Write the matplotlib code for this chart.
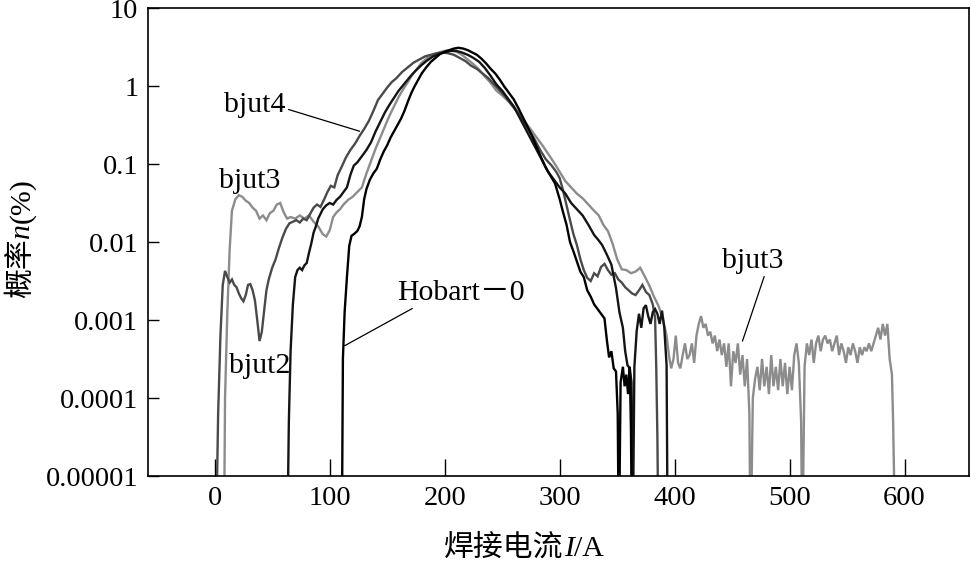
import numpy as np
import matplotlib
matplotlib.use("Agg")
import matplotlib.pyplot as plt
from matplotlib.transforms import IdentityTransform

# values: current (A) and log10 of probability (%)
bjut3_x = [8, 9, 11, 13, 15, 18, 21, 24, 27, 30, 33, 36, 39, 42, 45, 48, 51, 54, 57, 60,
           63, 66, 70, 74, 78, 82, 86, 90, 94, 97, 100, 103, 106, 109, 112, 116, 120, 124,
           128, 132, 136, 140, 144, 148, 152, 156, 160, 164, 168, 172, 176, 180, 185, 190,
           195, 200, 205, 210, 215, 220, 225, 230, 235, 240, 245, 250, 255, 260, 265, 270,
           275, 280, 285, 290, 295, 300, 305, 310, 315, 320, 325, 330, 334, 338, 342, 346,
           350, 354, 358, 362, 366, 370, 374, 378, 382, 386, 390, 393, 395, 397, 399, 401,
           403, 405, 407, 409, 411, 413, 415, 417, 419, 421, 423, 425, 427, 429, 431, 433,
           435, 437, 439, 441, 443, 445, 447, 449, 451, 453, 455, 457, 459, 461, 463, 465,
           466, 468, 470, 472, 474, 476, 478, 480, 482, 484, 486, 488, 490, 492, 494, 496,
           498, 500, 502, 504, 506, 508, 510, 511, 513, 515, 517, 519, 521, 523, 525, 527,
           529, 531, 533, 535, 537, 539, 541, 543, 545, 547, 549, 551, 553, 555, 557, 559,
           561, 563, 565, 567, 569, 571, 573, 575, 577, 579, 581, 583, 585, 587, 589, 590, 592]
bjut3_lg = [-6, -4.0, -2.9, -2.1, -1.6, -1.45, -1.40, -1.42, -1.47, -1.50, -1.56, -1.60,
            -1.70, -1.66, -1.72, -1.63, -1.60, -1.52, -1.50, -1.62, -1.70, -1.68, -1.70,
            -1.66, -1.70, -1.66, -1.74, -1.80, -1.90, -1.93, -1.85, -1.68, -1.62, -1.58,
            -1.52, -1.46, -1.42, -1.36, -1.30, -1.12, -0.96, -0.80, -0.66, -0.52, -0.38,
            -0.26, -0.14, -0.04, 0.05, 0.15, 0.22, 0.30, 0.36, 0.40, 0.43, 0.45, 0.46, 0.44,
            0.40, 0.34, 0.28, 0.21, 0.12, 0.04, -0.06, -0.12, -0.19, -0.26, -0.36, -0.46,
            -0.56, -0.66, -0.76, -0.87, -0.98, -1.10, -1.22, -1.30, -1.38, -1.44, -1.52,
            -1.60, -1.66, -1.78, -1.86, -2.02, -2.22, -2.35, -2.36, -2.40, -2.38, -2.33,
            -2.44, -2.56, -2.70, -2.82, -3.00, -3.20, -3.45, -3.62, -3.5, -3.2, -3.55, -3.62,
            -3.45, -3.3, -3.5, -3.45, -3.3, -3.55, -3.2, -3.05, -2.95, -3.1, -3.05, -3.2,
            -3.15, -3.3, -3.2, -3.4, -3.25, -3.45, -3.3, -3.6, -3.3, -3.85, -3.4, -3.55,
            -3.3, -3.7, -3.45, -3.85, -3.5, -4.2, -6, -4.0, -3.75, -3.6, -3.9, -3.5, -3.85,
            -3.6, -3.95, -3.45, -3.85, -3.6, -3.9, -3.5, -3.85, -3.55, -3.95, -3.6, -3.9,
            -3.45, -3.3, -3.55, -4.3, -6, -3.6, -3.3, -3.45, -3.25, -3.55, -3.3, -3.2, -3.4,
            -3.25, -3.2, -3.3, -3.25, -3.4, -3.3, -3.2, -3.45, -3.3, -3.4, -3.55, -3.35,
            -3.45, -3.3, -3.4, -3.55, -3.35, -3.45, -3.35, -3.4, -3.3, -3.4, -3.3, -3.2,
            -3.1, -3.25, -3.05, -3.2, -3.05, -3.5, -3.7, -4.3, -6]

bjut4_x = [1, 3, 5, 7, 9, 11, 13, 15, 17, 19, 21, 23, 25, 27, 29, 31, 33, 35, 37, 39, 41,
           43, 45, 47, 50, 53, 56, 59, 62, 65, 68, 71, 74, 77, 80, 83, 86, 89, 92, 95, 98,
           101, 104, 107, 110, 114, 118, 122, 126, 130, 134, 138, 142, 146, 150, 154, 158,
           163, 168, 173, 178, 183, 188, 193, 198, 203, 208, 213, 218, 223, 228, 233, 238,
           243, 248, 253, 258, 263, 268, 273, 278, 283, 288, 293, 297, 300, 303, 306, 309,
           312, 315, 318, 321, 324, 327, 330, 333, 336, 339, 342, 345, 348, 351, 354, 357,
           360, 363, 366, 369, 372, 375, 378, 381, 383, 384, 385, 386]
bjut4_lg = [-6, -4.2, -3.2, -2.55, -2.37, -2.45, -2.52, -2.48, -2.55, -2.58, -2.66, -2.72,
            -2.76, -2.68, -2.55, -2.54, -2.62, -2.75, -3.0, -3.27, -3.15, -2.88, -2.62,
            -2.48, -2.33, -2.22, -2.07, -1.94, -1.83, -1.76, -1.74, -1.72, -1.75, -1.70,
            -1.72, -1.64, -1.56, -1.52, -1.55, -1.46, -1.36, -1.28, -1.30, -1.14, -1.05,
            -0.92, -0.82, -0.74, -0.64, -0.55, -0.45, -0.32, -0.18, -0.10, -0.02, 0.05,
            0.10, 0.18, 0.24, 0.30, 0.34, 0.38, 0.40, 0.42, 0.43, 0.42, 0.40, 0.36, 0.32,
            0.26, 0.22, 0.16, 0.10, 0.02, -0.06, -0.14, -0.24, -0.33, -0.44, -0.56, -0.68,
            -0.82, -0.94, -1.02, -1.10, -1.18, -1.34, -1.53, -1.72, -1.90, -2.04, -2.22,
            -2.36, -2.46, -2.50, -2.40, -2.44, -2.32, -2.28, -2.36, -2.42, -2.40, -2.48,
            -2.52, -2.58, -2.62, -2.66, -2.68, -2.62, -2.55, -2.64, -2.68, -2.80, -2.97,
            -3.6, -4.5, -6]

bjut2_x = [63, 64.5, 66, 68, 70, 72, 74, 76, 78, 80, 82, 84, 86, 88, 90, 92, 94, 97, 100,
           103, 106, 109, 112, 115, 118, 121, 124, 128, 132, 136, 140, 144, 148, 152, 156,
           160, 165, 170, 175, 180, 185, 190, 195, 200, 205, 210, 215, 220, 225, 230, 235,
           240, 245, 250, 255, 260, 265, 270, 275, 280, 285, 290, 295, 300, 305, 310, 315,
           320, 325, 330, 334, 337, 341, 345, 349, 352, 355, 357, 359, 361, 362.5, 363.5,
           365, 367, 369, 371, 373, 375, 377, 379, 381, 383, 385, 387, 389, 391, 393, 394]
bjut2_lg = [-6, -4.3, -3.4, -2.8, -2.45, -2.36, -2.33, -2.36, -2.30, -2.27, -2.14, -2.02,
            -1.88, -1.80, -1.70, -1.64, -1.58, -1.53, -1.50, -1.52, -1.46, -1.42, -1.36,
            -1.30, -1.14, -1.02, -0.98, -0.90, -0.82, -0.72, -0.58, -0.46, -0.34, -0.24,
            -0.15, -0.06, 0.03, 0.12, 0.20, 0.27, 0.33, 0.38, 0.41, 0.43, 0.45, 0.45, 0.43,
            0.40, 0.36, 0.31, 0.23, 0.13, 0.02, -0.06, -0.16, -0.26, -0.40, -0.54, -0.68,
            -0.82, -0.96, -1.10, -1.20, -1.30, -1.38, -1.50, -1.58, -1.66, -1.78, -1.91,
            -1.98, -2.04, -2.16, -2.29, -2.59, -2.9, -3.10, -3.4, -3.58, -3.62, -3.8, -6,
            -3.6, -3.14, -2.92, -3.1, -2.85, -2.81, -2.95, -3.05, -2.90, -2.86, -2.92,
            -3.05, -2.88, -3.1, -3.58, -6]

hobart_x = [110.5, 111.5, 113, 115, 117, 119, 121, 124, 126, 128, 130, 132, 135, 138, 141,
            144, 147, 150, 153, 156, 159, 162, 165, 168, 171, 174, 177, 180, 184, 188, 192,
            196, 200, 204, 208, 212, 216, 220, 224, 228, 232, 236, 240, 244, 248, 252, 256,
            260, 264, 268, 272, 276, 280, 284, 288, 292, 296, 300, 303, 306, 309, 312, 315,
            318, 321, 324, 327, 330, 333, 336, 339, 341, 343, 345, 347, 349, 350.5, 351.5,
            353, 355, 356.5, 358, 359.5, 361, 362, 363]
hobart_lg = [-6, -3.5, -2.9, -2.45, -2.05, -1.92, -1.90, -1.86, -1.80, -1.68, -1.45, -1.32,
             -1.20, -1.12, -1.06, -0.94, -0.84, -0.76, -0.66, -0.58, -0.50, -0.42, -0.32,
             -0.20, -0.09, 0.00, 0.08, 0.16, 0.24, 0.31, 0.36, 0.41, 0.44, 0.46, 0.48, 0.49,
             0.48, 0.46, 0.43, 0.40, 0.35, 0.29, 0.22, 0.16, 0.08, -0.01, -0.09, -0.17,
             -0.28, -0.40, -0.52, -0.64, -0.78, -0.92, -1.05, -1.15, -1.25, -1.45, -1.62,
             -1.78, -2.00, -2.12, -2.25, -2.38, -2.45, -2.62, -2.70, -2.80, -2.86, -2.92,
             -2.98, -3.25, -3.48, -3.40, -3.62, -3.66, -4.2, -6, -3.8, -3.6, -3.85, -3.7,
             -3.95, -3.6, -4.4, -6]

yticks = [1e-5, 1e-4, 1e-3, 1e-2, 1e-1, 1, 10]
ytick_labels = ["0.00001", "0.0001", "0.001", "0.01", "0.1", "1", "10"]
xticks = [0, 100, 200, 300, 400, 500, 600]

SERIF = ['Liberation Serif', 'Noto Sans CJK SC']
plt.rcParams['font.family'] = SERIF

fig = plt.figure(figsize=(9.71, 5.62), dpi=100)
ax = fig.add_axes([148 / 971, 1 - 476 / 562, 821 / 971, 468 / 562])

def draw(xs, lg, color):
    ax.plot(xs, 10.0 ** np.array(lg), color=color, lw=1.7, solid_joinstyle='miter')

draw(bjut3_x, bjut3_lg, '#8c8c8c')
draw(bjut4_x, bjut4_lg, '#4a4a4a')
draw(bjut2_x, bjut2_lg, '#141414')
draw(hobart_x, hobart_lg, '#000000')

ax.set_yscale('log')
ax.set_xlim(-58, 656)
ax.set_ylim(1e-5, 10)
ax.set_xticks(xticks)
ax.set_xticklabels([str(t) for t in xticks])
ax.set_yticks(yticks)
ax.set_yticklabels(ytick_labels)
ax.minorticks_off()
ax.tick_params(axis='both', direction='in', labelsize=20.5, width=1, pad=7)
ax.tick_params(axis='x', length=12)
ax.tick_params(axis='y', length=8)
for s in ax.spines.values():
    s.set_linewidth(1.2)


def rich_label(pieces, cx, cy, vertical, fs=21.5):
    # pieces laid end to end in pixel coords, whole run centred on (cx, cy)
    renderer = fig.canvas.get_renderer()
    rot = 90 if vertical else 0
    texts, sizes = [], []
    for s, style in pieces:
        t = fig.text(0, 0, s, fontsize=fs, style=style, rotation=rot,
                     rotation_mode='anchor', ha='left', va='baseline',
                     transform=IdentityTransform())
        bb = t.get_window_extent(renderer)
        texts.append(t)
        sizes.append(bb.height if vertical else bb.width)
    pos = (cy if vertical else cx) - sum(sizes) / 2
    for t, sz in zip(texts, sizes):
        t.set_position((cx, pos) if vertical else (pos, cy))
        pos += sz


# figure pixels measured from bottom-left (height 562)
rich_label([('焊接电流', 'normal'), ('I', 'italic'), ('/A', 'normal')], 524, 562 - 556, False)
rich_label([('概率', 'normal'), ('n', 'italic'), ('(%)', 'normal')], 29, 562 - 238, True)

arrow = dict(arrowstyle='-', lw=0.9, color='black', shrinkA=0, shrinkB=0)
fs = 21.5
ax.annotate('bjut4', xy=(126, 10 ** -0.58), xytext=(35, 10 ** -0.24), fontsize=fs,
            ha='center', va='center', arrowprops=dict(arrow, relpos=(1.0, 0.35)))
ax.text(30, 10 ** -1.22, 'bjut3', fontsize=fs, ha='center', va='center')
ax.text(39, 10 ** -3.59, 'bjut2', fontsize=fs, ha='center', va='center')
ax.annotate('Hobart－0', xy=(113, 10 ** -3.33), xytext=(214, 10 ** -2.65), fontsize=fs,
            ha='center', va='center', arrowprops=dict(arrow, relpos=(0.16, 0.0)))
ax.annotate('bjut3', xy=(459, 10 ** -3.27), xytext=(468, 10 ** -2.24), fontsize=fs,
            ha='center', va='center', arrowprops=dict(arrow, relpos=(0.7, 0.0)))

fig.savefig('out.png', dpi=100)
